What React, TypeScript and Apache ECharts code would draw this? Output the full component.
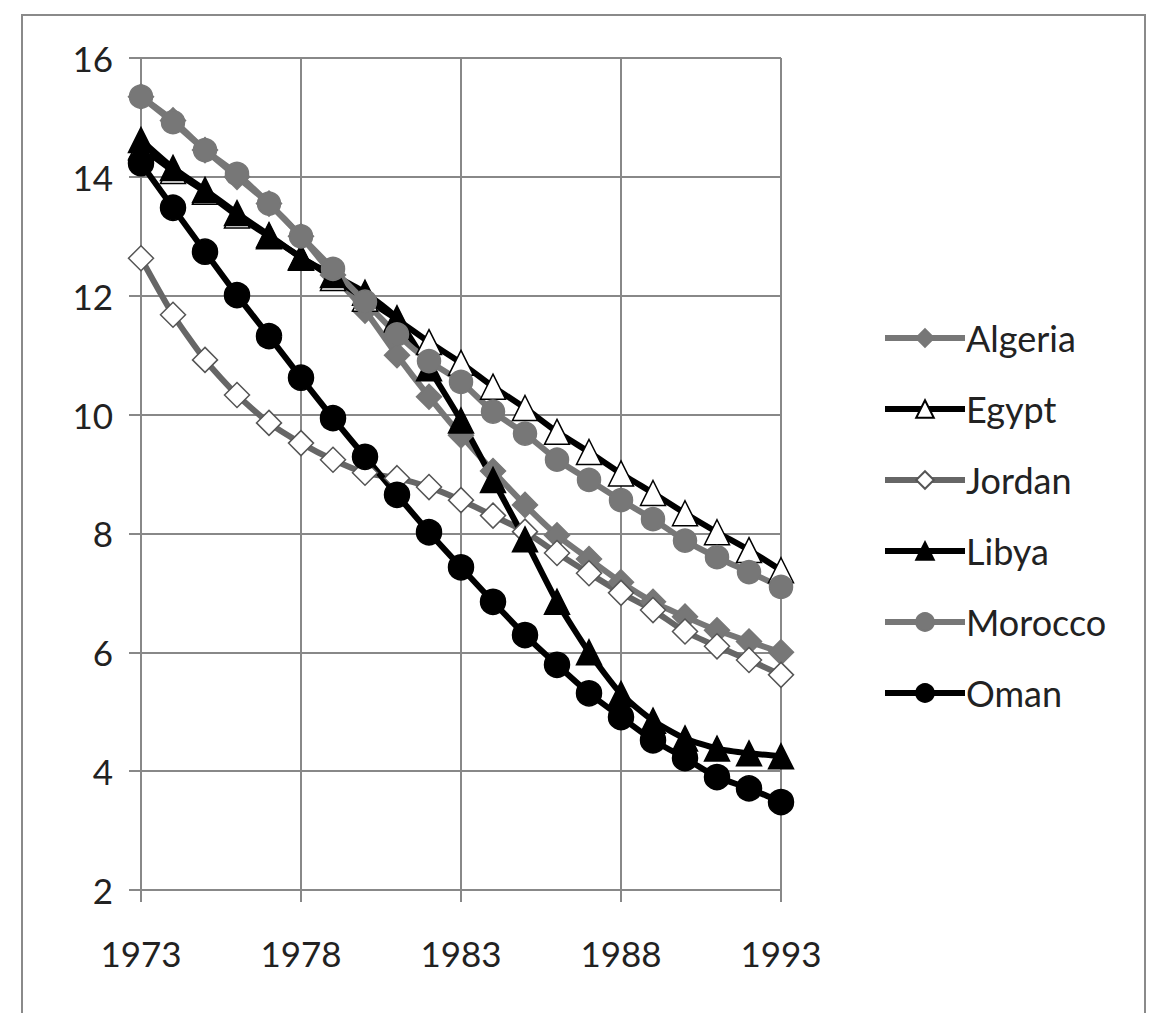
import { useEffect, useRef } from "react";
import * as echarts from "echarts";

const years = [
  "1973", "1974", "1975", "1976", "1977", "1978", "1979", "1980", "1981", "1982", "1983",
  "1984", "1985", "1986", "1987", "1988", "1989", "1990", "1991", "1992", "1993",
];

const algeria = [15.35, 14.95, 14.45, 14.0, 13.55, 13.0, 12.35, 11.75, 11.0, 10.3, 9.65, 9.05, 8.48, 7.97, 7.57, 7.18, 6.85, 6.6, 6.37, 6.18, 6.0];
const egypt = [14.5, 14.1, 13.75, 13.35, 13.0, 12.65, 12.3, 11.95, 11.6, 11.22, 10.87, 10.47, 10.11, 9.71, 9.37, 9.01, 8.68, 8.34, 8.02, 7.72, 7.38];
const jordan = [12.63, 11.68, 10.92, 10.33, 9.86, 9.52, 9.24, 9.02, 8.93, 8.78, 8.56, 8.3, 8.03, 7.67, 7.33, 7.0, 6.71, 6.35, 6.1, 5.87, 5.62];
const libya = [14.62, 14.15, 13.78, 13.39, 13.02, 12.64, 12.35, 12.05, 11.62, 10.78, 9.9, 8.9, 7.9, 6.85, 6.0, 5.3, 4.85, 4.55, 4.38, 4.3, 4.25];
const morocco = [15.35, 14.92, 14.45, 14.05, 13.55, 13.0, 12.45, 11.9, 11.35, 10.9, 10.55, 10.05, 9.68, 9.24, 8.9, 8.56, 8.24, 7.88, 7.6, 7.35, 7.1];
const oman = [14.23, 13.48, 12.74, 12.01, 11.32, 10.62, 9.94, 9.29, 8.65, 8.02, 7.43, 6.85, 6.29, 5.79, 5.31, 4.91, 4.52, 4.22, 3.9, 3.71, 3.48];

const GRAY = "#777777";
const BLACK = "#000000";
const TEXT = "#222222";
const FONT = "Lato, 'Open Sans', sans-serif";

function line(name: string, data: number[], lineColor: string, symbol: string, fill: string, border: string, size: number) {
  return {
    name,
    type: "line",
    data,
    smooth: 0.2,
    symbol,
    symbolSize: size,
    showAllSymbol: true,
    lineStyle: { color: lineColor, width: 6 },
    itemStyle: { color: fill, borderColor: border, borderWidth: 1.5 },
  };
}

export default function App() {
  const containerRef = useRef<HTMLDivElement>(null);

  useEffect(() => {
    if (!containerRef.current) return;
    const chart = echarts.init(containerRef.current, null, { renderer: "svg" });

    chart.setOption({
      animation: false,
      backgroundColor: "#ffffff",
      textStyle: { fontFamily: FONT },
      graphic: [
        {
          type: "rect",
          shape: { x: 22, y: 15, width: 1123, height: 1030 },
          style: { fill: "none", stroke: "#8a8a8a", lineWidth: 2 },
          silent: true,
        },
      ],
      grid: { left: 141, right: 370, top: 58, bottom: 123 },
      legend: {
        orient: "vertical",
        left: 877,
        top: 315,
        itemWidth: 80,
        itemHeight: 22,
        itemGap: 35,
        lineStyle: { width: 6 },
        textStyle: { fontSize: 36, color: TEXT, fontFamily: FONT, padding: [0, 0, 0, -4] },
        data: ["Algeria", "Egypt", "Jordan", "Libya", "Morocco", "Oman"],
      },
      xAxis: {
        type: "category",
        data: years,
        boundaryGap: false,
        axisLine: { show: true, lineStyle: { color: "#888888", width: 2 } },
        axisTick: { show: true, interval: 4, length: 12, inside: false, lineStyle: { color: "#888888", width: 2 } },
        axisLabel: { interval: 4, fontSize: 35, color: TEXT, margin: 45, fontFamily: FONT },
        splitLine: { show: true, interval: 4, lineStyle: { color: "#888888", width: 2 } },
      },
      yAxis: {
        type: "value",
        min: 2,
        max: 16,
        interval: 2,
        axisLine: { show: true, lineStyle: { color: "#888888", width: 2 } },
        axisTick: { show: true, length: 12, lineStyle: { color: "#888888", width: 2 } },
        axisLabel: { fontSize: 35, color: TEXT, margin: 28, fontFamily: FONT },
        splitLine: { show: true, lineStyle: { color: "#888888", width: 2 } },
      },
      series: [
        line("Algeria", algeria, GRAY, "diamond", GRAY, GRAY, 25),
        line("Egypt", egypt, BLACK, "triangle", "#ffffff", BLACK, 25),
        line("Jordan", jordan, "#666666", "diamond", "#ffffff", "#555555", 25),
        line("Libya", libya, BLACK, "triangle", BLACK, BLACK, 25),
        line("Morocco", morocco, GRAY, "circle", GRAY, GRAY, 23),
        line("Oman", oman, BLACK, "circle", BLACK, BLACK, 25),
      ],
    });

    return () => {
      chart.dispose();
    };
  }, []);

  return (
    <div
      ref={containerRef}
      style={{ position: "fixed", left: 0, top: 0, width: "1151px", height: "1013px" }}
    />
  );
}
